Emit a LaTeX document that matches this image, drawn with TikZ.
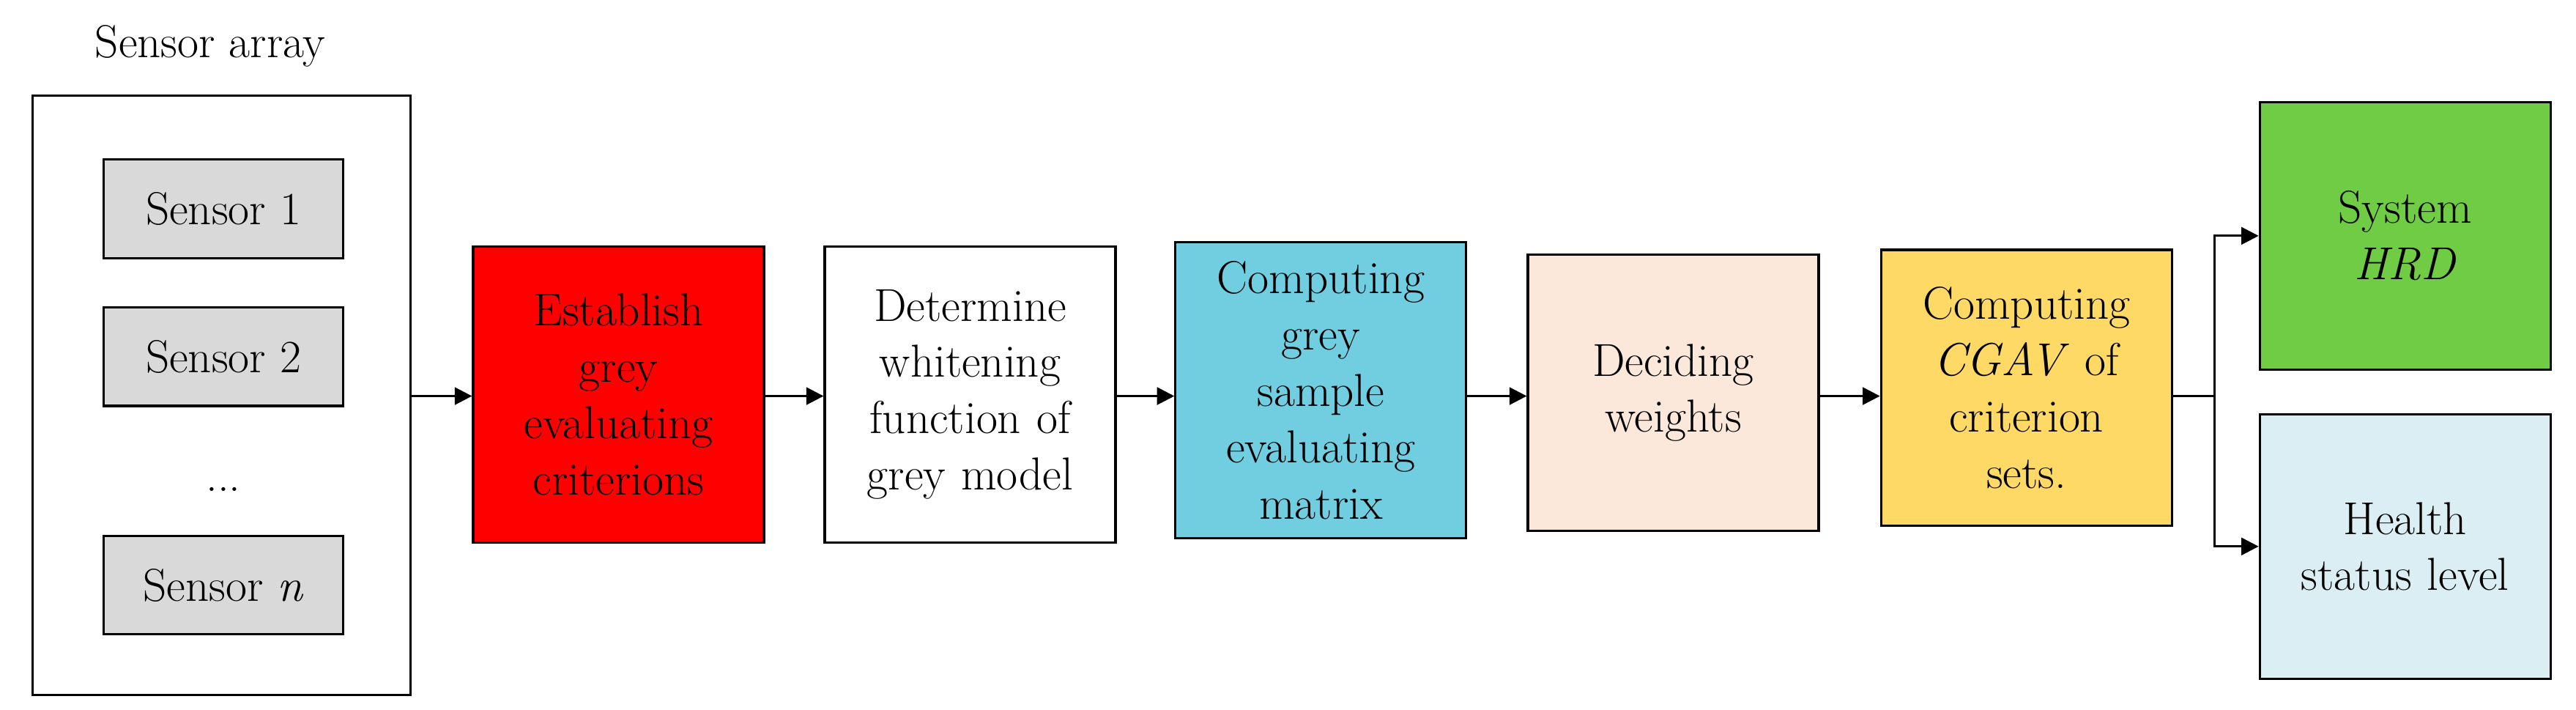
\documentclass[tikz,border=0pt]{standalone}
\usepackage{tikz}
\usetikzlibrary{positioning,calc,arrows.meta}
\definecolor{boxred}{RGB}{255,0,0}
\definecolor{boxcyan}{RGB}{112,206,224}
\definecolor{boxpeach}{RGB}{252,232,218}
\definecolor{boxyellow}{RGB}{255,217,102}
\definecolor{boxgreen}{RGB}{112,204,68}
\definecolor{boxblue}{RGB}{218,238,243}
\definecolor{sensorgrey}{RGB}{217,217,217}
\begin{document}
\begin{tikzpicture}[x=0.02cm,y=-0.02cm,
    every node/.style={font=\fontsize{16}{19.5}\selectfont},
    stage/.style={draw, thick, minimum width=3.54cm, minimum height=3.6cm, align=center, text width=3.3cm, inner sep=0pt},
    sensor/.style={draw, thick, fill=sensorgrey, minimum width=2.92cm, minimum height=1.2cm},
    link/.style={thick, -{Triangle[length=6pt,width=6pt]}}]
            \useasboundingbox (0,0) rectangle (1568,432);
            % Sensor array
            \node (title) at (128,28) {Sensor array};
            \draw[thick] (20,58) rectangle (250,423);
            \coordinate (arrayout) at (250,241);
            \node[sensor] (s1) at (136,127) {Sensor 1};
            \node[sensor] (s2) at (136,217) {Sensor 2};
            \node (dots) at (136,298) {...};
            \node[sensor] (sn) at (136,356) {Sensor \textit{n}};

            % Processing chain
            \node[stage, fill=boxred] (establish) at (376.5,240) {Establish\\grey\\evaluating\\criterions};
            \node[stage] (whiten) at (590.5,240) {Determine\\whitening\\function of\\grey model};
            \node[stage, fill=boxcyan] (matrix) at (804,237.5) {Computing\\grey\\sample\\evaluating\\matrix};
            \node[stage, fill=boxpeach, minimum height=3.36cm] (weights) at (1018.5,239) {Deciding\\weights};
            \node[stage, fill=boxyellow, minimum height=3.36cm] (cgav) at (1233.5,236) {Computing\\\textit{CGAV} of\\criterion\\sets.};

            % Outputs
            \node[stage, fill=boxgreen, minimum height=3.26cm] (hrd) at (1464,143.5) {System\\\textit{HRD}};
            \node[stage, fill=boxblue, minimum height=3.22cm] (health) at (1464,332.5) {Health\\status level};

            % Connectors
            \draw[link] (arrayout) -- (establish.west |- arrayout);
            \draw[link] (establish.east |- arrayout) -- (whiten.west |- arrayout);
            \draw[link] (whiten.east |- arrayout) -- (matrix.west |- arrayout);
            \draw[link] (matrix.east |- arrayout) -- (weights.west |- arrayout);
            \draw[link] (weights.east |- arrayout) -- (cgav.west |- arrayout);
            \coordinate (fork) at (1348,241);
            \draw[thick] (cgav.east |- fork) -- (fork);
            \draw[link] (fork) |- (hrd.west);
            \draw[link] (fork) |- (health.west);
        \end{tikzpicture}
\end{document}
